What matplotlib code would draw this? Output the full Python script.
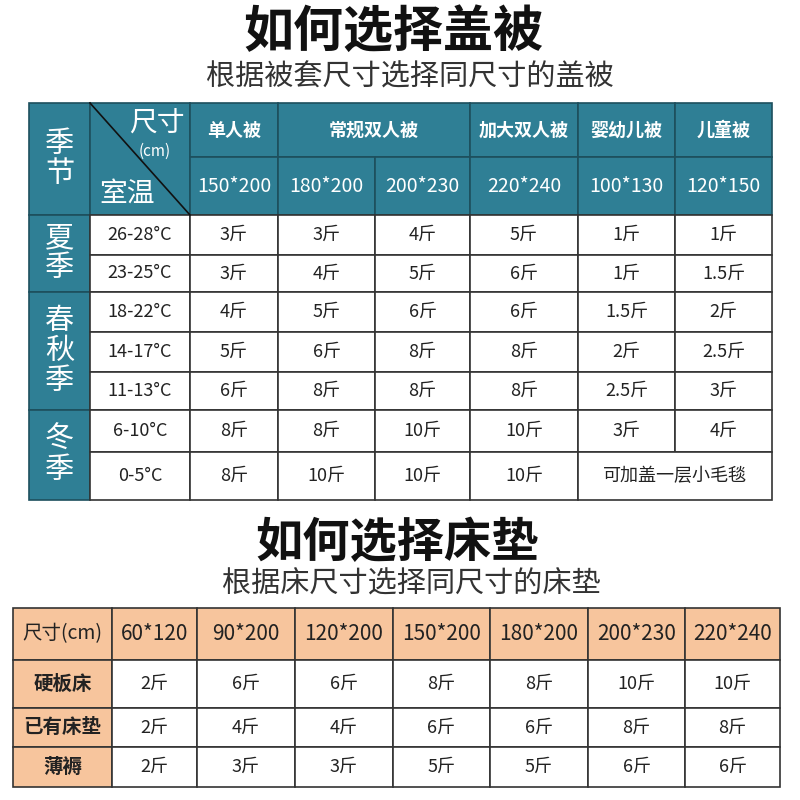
import matplotlib.pyplot as plt
from matplotlib.patches import Rectangle

plt.rcParams['font.family'] = ['Noto Sans CJK SC', 'DejaVu Sans']

# quilt table data
quilt_groups = ['单人被', '常规双人被', '加大双人被', '婴幼儿被', '儿童被']
quilt_sizes = ['150*200', '180*200', '200*230', '220*240', '100*130', '120*150']
seasons = ['夏\n季', '春\n秋\n季', '冬\n季']
season_rows = [2, 3, 2]
temps = ['26-28°C', '23-25°C', '18-22°C', '14-17°C', '11-13°C', '6-10°C', '0-5°C']
quilt_vals = [
    ['3斤', '3斤', '4斤', '5斤', '1斤', '1斤'],
    ['3斤', '4斤', '5斤', '6斤', '1斤', '1.5斤'],
    ['4斤', '5斤', '6斤', '6斤', '1.5斤', '2斤'],
    ['5斤', '6斤', '8斤', '8斤', '2斤', '2.5斤'],
    ['6斤', '8斤', '8斤', '8斤', '2.5斤', '3斤'],
    ['8斤', '8斤', '10斤', '10斤', '3斤', '4斤'],
    ['8斤', '10斤', '10斤', '10斤', '可加盖一层小毛毯'],
]

# mattress table data
mat_sizes = ['60*120', '90*200', '120*200', '150*200', '180*200', '200*230', '220*240']
mat_rows = ['硬板床', '已有床垫', '薄褥']
mat_vals = [
    ['2斤', '6斤', '6斤', '8斤', '8斤', '10斤', '10斤'],
    ['2斤', '4斤', '4斤', '6斤', '6斤', '8斤', '8斤'],
    ['2斤', '3斤', '3斤', '5斤', '5斤', '6斤', '6斤'],
]

TEAL = '#2f7f95'
ORANGE = '#f7c59d'

fig = plt.figure(figsize=(8, 8), dpi=100)
ax = fig.add_axes([0, 0, 1, 1])
ax.set_xlim(0, 800)
ax.set_ylim(800, 0)
ax.axis('off')


def cell(x0, x1, y0, y1, fc, text='', color='#222222', size=14, weight='normal', lw=1.2, ec='#333333'):
    ax.add_patch(Rectangle((x0, y0), x1 - x0, y1 - y0, fc=fc, ec=ec, lw=lw))
    if text:
        ax.text((x0 + x1) / 2, (y0 + y1) / 2, text, ha='center', va='center',
                color=color, fontsize=size, fontweight=weight, linespacing=1.0)


# ---- top part
ax.text(393, 32, '如何选择盖被', ha='center', va='center', fontsize=36, fontweight='bold', color='#111111')
ax.text(410, 78, '根据被套尺寸选择同尺寸的盖被', ha='center', va='center', fontsize=21, color='#333333')

cols = [190, 278, 375, 470, 578, 675, 772]
ytop, yh1, yh2 = 103, 157, 215
rows = [215, 255, 292, 332, 372, 410, 452, 500]
group_span = [(0, 1), (1, 3), (3, 4), (4, 5), (5, 6)]

cell(29, 90, ytop, yh2, TEAL, '季\n节', color='white', size=21, ec='#1d4f5d')
cell(90, 190, ytop, yh2, TEAL, ec='#1d4f5d')
ax.plot([90, 190], [ytop, yh2], color='#111111', lw=1.2)
ax.text(157, 124, '尺寸', ha='center', va='center', color='white', fontsize=20)
ax.text(155, 151, '(cm)', ha='center', va='center', color='white', fontsize=11)
ax.text(127, 194, '室温', ha='center', va='center', color='white', fontsize=20)
for name, (a, b) in zip(quilt_groups, group_span):
    cell(cols[a], cols[b], ytop, yh1, TEAL, name, color='white', size=13, weight='bold', ec='#1d4f5d')
for i, s in enumerate(quilt_sizes):
    cell(cols[i], cols[i + 1], yh1, yh2, TEAL, s, color='white', size=14, ec='#1d4f5d')

r = 0
for s, n in zip(seasons, season_rows):
    cell(29, 90, rows[r], rows[r + n], TEAL, s, color='white', size=21, ec='#1d4f5d')
    r += n
for i, t in enumerate(temps):
    cell(90, 190, rows[i], rows[i + 1], 'white', t, size=13)
    vals = quilt_vals[i]
    for j, v in enumerate(vals):
        if len(vals) < len(quilt_sizes) and j == len(vals) - 1:
            cell(cols[j], cols[-1], rows[i], rows[i + 1], 'white', v, size=13)
        else:
            cell(cols[j], cols[j + 1], rows[i], rows[i + 1], 'white', v, size=13)

# ---- bottom part
ax.text(397, 543, '如何选择床垫', ha='center', va='center', fontsize=34, fontweight='bold', color='#111111')
ax.text(411, 585, '根据床尺寸选择同尺寸的床垫', ha='center', va='center', fontsize=21, color='#333333')

mcols = [13, 112, 197, 295, 393, 490, 588, 685, 780]
mrows = [608, 660, 708, 747, 787]
cell(mcols[0], mcols[1], mrows[0], mrows[1], ORANGE, '尺寸(cm)', size=14)
for j, s in enumerate(mat_sizes):
    cell(mcols[j + 1], mcols[j + 2], mrows[0], mrows[1], ORANGE, s, size=15)
for i, name in enumerate(mat_rows):
    cell(mcols[0], mcols[1], mrows[i + 1], mrows[i + 2], ORANGE, name, size=14, weight='bold')
    for j, v in enumerate(mat_vals[i]):
        cell(mcols[j + 1], mcols[j + 2], mrows[i + 1], mrows[i + 2], 'white', v, size=13)

fig.savefig('out.png', dpi=100)
